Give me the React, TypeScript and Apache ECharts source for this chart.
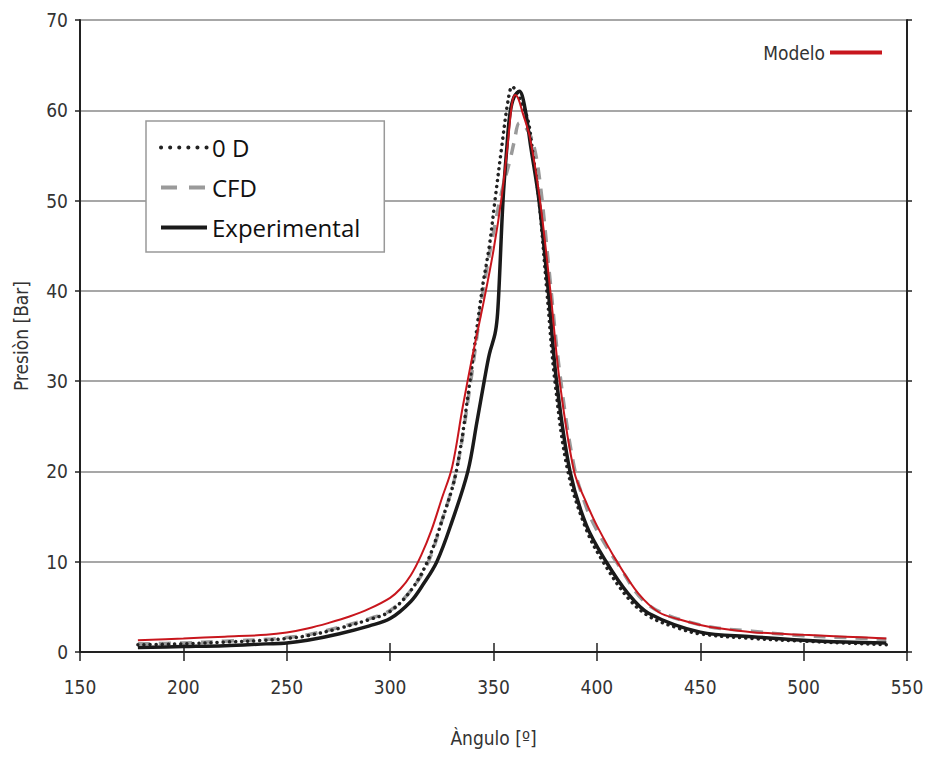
import React, { useEffect, useRef } from "react";
import * as echarts from "echarts";

// Modelo (red)
const modeloAngle = [178, 200, 220, 240, 250, 260, 270, 280, 290, 300, 305, 310, 315, 320, 325, 330, 335, 340, 345, 350, 354, 357, 359, 360.5, 362, 364, 367.6, 372.5, 377.5, 382, 389, 395, 400, 410, 420, 430, 440, 450, 460, 475, 500, 520, 540];
const modeloP = [1.3, 1.5, 1.7, 1.9, 2.15, 2.6, 3.2, 3.9, 4.8, 6.0, 7.0, 8.5, 10.7, 13.5, 17, 20.5, 27, 33, 38.5, 44.5, 50.5, 56.5, 60.8, 61.7, 61.3, 59.8, 57, 50, 40, 30, 20, 16.5, 14, 9.9, 6.5, 4.4, 3.6, 3.0, 2.6, 2.2, 1.9, 1.7, 1.5];

// 0 D (dotted)
const odAngle = [178, 200, 220, 240, 250, 260, 275, 290, 300, 310, 318, 325, 332, 338.6, 344.4, 348, 350.7, 354, 357, 359, 361, 364, 366.7, 369, 372, 375.8, 379.7, 386, 395, 403, 415, 425.6, 440, 450, 475, 500, 520, 540];
const odP = [0.8, 0.9, 1.1, 1.3, 1.5, 1.8, 2.6, 3.6, 4.5, 6.8, 10, 14.5, 20, 30, 40, 45, 50, 56, 61, 62.6, 62.2, 60.5, 58.9, 55.3, 50, 40, 30, 20, 13.5, 10, 6.0, 3.9, 2.6, 2.0, 1.5, 1.2, 1.0, 0.8];

// CFD (dashed)
const cfdAngle = [178, 200, 220, 240, 250, 260, 275, 290, 300, 310, 318.5, 325, 332, 339, 345, 350, 354, 358, 360, 362.5, 365, 369, 372.5, 377, 382, 389, 395, 400, 410, 425, 450, 475, 500, 520, 540];
const cfdP = [0.9, 1.0, 1.2, 1.4, 1.6, 1.9, 2.7, 3.7, 4.6, 6.8, 10, 14.5, 20, 30, 40, 46.5, 51, 54.5, 56.5, 58.6, 58.3, 56.5, 52, 42, 31, 20.5, 16, 13.5, 9.8, 5.2, 3.0, 2.3, 1.8, 1.6, 1.4];

// Experimental (solid black)
const expAngle = [178, 200, 220, 240, 250, 260, 275, 290, 300, 310, 316, 322.6, 330, 337.6, 342, 345.5, 348, 350.7, 351.8, 352.6, 354.6, 356.5, 358, 360, 362.5, 365, 368, 372, 376.5, 380.5, 387, 395, 404.5, 415, 425, 450, 475, 500, 520, 540];
const expP = [0.5, 0.6, 0.7, 0.9, 1.0, 1.3, 2.0, 2.9, 3.7, 5.6, 7.5, 10, 14.5, 20, 25.5, 30, 33, 35.2, 37, 40, 50, 56, 59.7, 61.5, 62.1, 60.5, 56, 50, 40, 30, 20, 14, 10, 6.5, 4.3, 2.2, 1.7, 1.3, 1.1, 1.0];

const xTicks = [150, 200, 250, 300, 350, 400, 450, 500, 550];
const yTicks = [0, 10, 20, 30, 40, 50, 60, 70];

const pairs = (a: number[], b: number[]) => a.map((v, i) => [v, b[i]]);

const FONT = "'Liberation Sans Narrow', 'DejaVu Sans Condensed', 'Noto Sans', sans-serif";

export default function App() {
  const ref = useRef<HTMLDivElement>(null);
  useEffect(() => {
    if (!ref.current) return;
    const chart = echarts.init(ref.current, undefined, { renderer: "svg" });
    const axisLine = { show: true, lineStyle: { color: "#222", width: 2 } };
    chart.setOption({
      animation: false,
      backgroundColor: "#fff",
      grid: { left: 80, right: 22, top: 20, bottom: 108, outerBoundsMode: "none", containLabel: false },
      legend: [
        {
          data: [
            { name: "0 D", lineStyle: { type: [0.1, 9], cap: "round", width: 4 } },
            { name: "CFD", lineStyle: { type: [16, 12], width: 4 } },
            { name: "Experimental", lineStyle: { width: 4 } },
          ],
          orient: "vertical",
          left: 146,
          top: 121,
          itemWidth: 46,
          itemHeight: 14,
          itemGap: 11,
          itemTextGap: 8,
          padding: [12, 24, 10, 13],
          borderColor: "#999",
          borderWidth: 1.5,
          backgroundColor: "#fff",
          itemStyle: { opacity: 0 },
          lineStyle: { width: 4 },
          textStyle: { fontFamily: "'Open Sans', 'Noto Sans', sans-serif", fontSize: 24, lineHeight: 29, color: "#111" },
        },
        {
          data: ["Modelo"],
          right: 40,
          top: 38,
          align: "right",
          itemWidth: 52,
          itemHeight: 14,
          itemTextGap: 8,
          itemStyle: { opacity: 0 },
          lineStyle: { width: 4 },
          textStyle: { fontFamily: FONT, fontSize: 19, color: "#333" },
        },
      ],
      xAxis: [
        {
          type: "value",
          min: 150,
          max: 550,
          interval: 50,
          name: "Àngulo [º]",
          nameLocation: "middle",
          nameGap: 76,
          nameTextStyle: { fontFamily: FONT, fontSize: 19, color: "#333" },
          axisLine,
          axisTick: { show: true, inside: true, length: 9, lineStyle: { color: "#222", width: 1.5 } },
          axisLabel: { fontFamily: FONT, fontSize: 19, color: "#333", margin: 25 },
          splitLine: { show: false },
        },
        {
          type: "value",
          position: "top",
          min: 150,
          max: 550,
          interval: 50,
          axisLine,
          axisTick: { show: true, inside: true, length: 9, lineStyle: { color: "#222", width: 1.5 } },
          axisLabel: { show: false },
          splitLine: { show: false },
        },
      ],
      yAxis: [
        {
          type: "value",
          min: 0,
          max: 70,
          interval: 10,
          name: "Presiòn [Bar]",
          nameLocation: "middle",
          nameGap: 50,
          nameRotate: 90,
          nameTextStyle: { fontFamily: FONT, fontSize: 19, color: "#333" },
          axisLine,
          axisTick: { show: true, length: 5, lineStyle: { color: "#222", width: 1.5 } },
          axisLabel: { fontFamily: FONT, fontSize: 19, color: "#333", margin: 12 },
          splitLine: {
            show: true,
            lineStyle: { color: "#8a8a8a", width: 1.5 },
          },
        },
        {
          type: "value",
          position: "right",
          min: 0,
          max: 70,
          interval: 10,
          axisLine,
          axisTick: { show: true, length: 5, lineStyle: { color: "#222", width: 1.5 } },
          axisLabel: { show: false },
          splitLine: { show: false },
        },
      ],
      series: [
        {
          name: "0 D",
          type: "line",
          data: pairs(odAngle, odP),
          showSymbol: false,
          smooth: 0.35,
          z: 3,
          lineStyle: { color: "#222", width: 3.5, type: [0.1, 6], cap: "round" },
          itemStyle: { color: "#222" },
        },
        {
          name: "CFD",
          type: "line",
          data: pairs(cfdAngle, cfdP),
          showSymbol: false,
          smooth: 0.35,
          z: 2,
          lineStyle: { color: "#9a9a9a", width: 3.5, type: [12, 9] },
          itemStyle: { color: "#9a9a9a" },
        },
        {
          name: "Experimental",
          type: "line",
          data: pairs(expAngle, expP),
          showSymbol: false,
          smooth: 0.35,
          z: 4,
          lineStyle: { color: "#1a1a1a", width: 3.5 },
          itemStyle: { color: "#1a1a1a" },
        },
        {
          name: "Modelo",
          type: "line",
          data: pairs(modeloAngle, modeloP),
          showSymbol: false,
          smooth: 0.35,
          z: 5,
          lineStyle: { color: "#c8161d", width: 2 },
          itemStyle: { color: "#c8161d" },
        },
      ],
    });
    return () => chart.dispose();
  }, []);
  return (
    <div
      ref={ref}
      style={{ position: "absolute", left: 0, top: 0, width: 929, height: 760, background: "#fff" }}
    />
  );
}
